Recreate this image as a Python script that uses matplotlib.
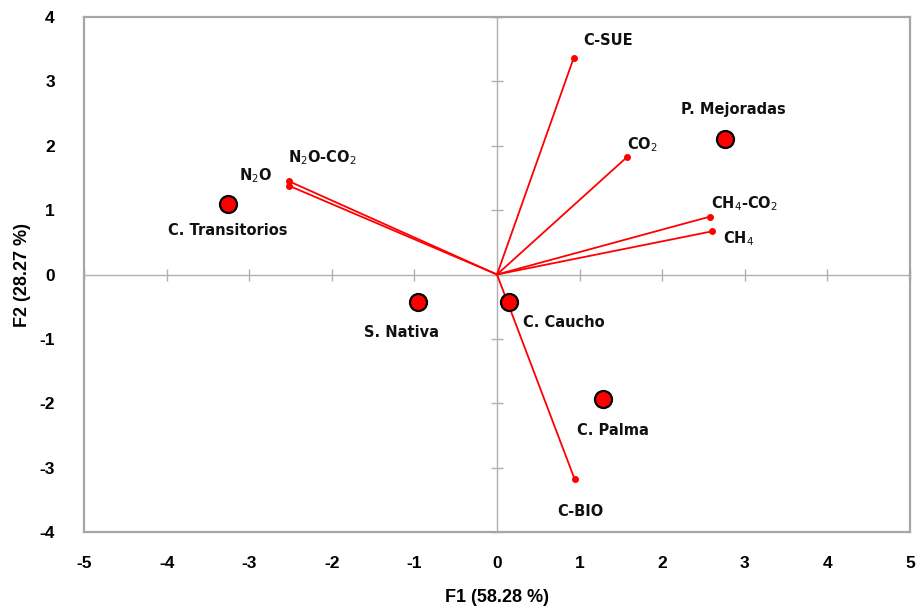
import matplotlib
matplotlib.use("Agg")
import matplotlib.pyplot as plt

plt.rcParams["axes.unicode_minus"] = False

# Observations (sites) scores
site_names = ["C. Transitorios", "S. Nativa", "C. Caucho", "C. Palma", "P. Mejoradas"]
site_f1 = [-3.26, -0.96, 0.14, 1.28, 2.76]
site_f2 = [1.09, -0.42, -0.42, -1.93, 2.11]

# Variable loadings (vectors)
var_names = ["C-SUE", "CO$_2$", "CH$_4$-CO$_2$", "CH$_4$", "N$_2$O-CO$_2$", "N$_2$O", "C-BIO"]
var_f1 = [0.93, 1.57, 2.58, 2.60, -2.52, -2.52, 0.94]
var_f2 = [3.37, 1.82, 0.90, 0.67, 1.45, 1.38, -3.18]

xticks = [-5, -4, -3, -2, -1, 0, 1, 2, 3, 4, 5]
yticks = [-4, -3, -2, -1, 0, 1, 2, 3, 4]

# label offsets in points (dx, dy)
site_offsets = [(0, -19), (-12, -22), (40, -15), (7, -23), (6, 21)]
var_offsets = [(25, 12), (11, 9), (25, 9), (19, -5), (24, 17), (-24, 7), (4, -23)]

fig = plt.figure(figsize=(9.19, 6.10), dpi=100)
ax = fig.add_axes([0.0914, 0.128, 0.8988, 0.844])
ax.set_xlim(-5, 5)
ax.set_ylim(-4, 4)

frame_col = "#a6a6a6"
for s in ax.spines.values():
    s.set_color(frame_col)
    s.set_linewidth(1.6)

# central axes
ax.axhline(0, color="#b0b0b0", lw=1.0, zorder=1)
ax.axvline(0, color="#b0b0b0", lw=1.0, zorder=1)
ax.plot([0] * len(yticks), yticks, ls="none", marker="_", ms=8, mew=1.0,
        color="#b0b0b0", zorder=1, clip_on=False)
ax.plot(xticks, [0] * len(xticks), ls="none", marker="|", ms=8, mew=1.0,
        color="#b0b0b0", zorder=1, clip_on=False)

ax.set_xticks(xticks)
ax.set_yticks(yticks)
ax.tick_params(length=0, labelsize=12.5)
for lab in ax.get_xticklabels() + ax.get_yticklabels():
    lab.set_fontweight("bold")
    lab.set_family("Liberation Sans")
ax.tick_params(axis="x", pad=17)
ax.tick_params(axis="y", pad=21)

ax.set_xlabel("F1 (58.28 %)", fontsize=13, fontweight="bold", family="Liberation Sans", labelpad=13)
ax.set_ylabel("F2 (28.27 %)", fontsize=13, fontweight="bold", family="Liberation Sans", labelpad=6)

# vectors
for x, y, name, off in zip(var_f1, var_f2, var_names, var_offsets):
    ax.plot([0, x], [0, y], color="red", lw=1.3, zorder=2)
    ax.plot([x], [y], marker="o", ms=4, color="red", zorder=3)
    ax.annotate(name, (x, y), xytext=off, textcoords="offset points",
                ha="center", va="center", fontsize=10.5, fontweight="bold",
                family="DejaVu Sans", color="#111111")

# sites
ax.scatter(site_f1, site_f2, s=150, color="#ff0000", edgecolor="black",
           linewidth=1.6, zorder=4)
for x, y, name, off in zip(site_f1, site_f2, site_names, site_offsets):
    ax.annotate(name, (x, y), xytext=off, textcoords="offset points",
                ha="center", va="center", fontsize=10.5, fontweight="bold",
                family="DejaVu Sans", color="#111111")

fig.savefig("out.png", dpi=100)
